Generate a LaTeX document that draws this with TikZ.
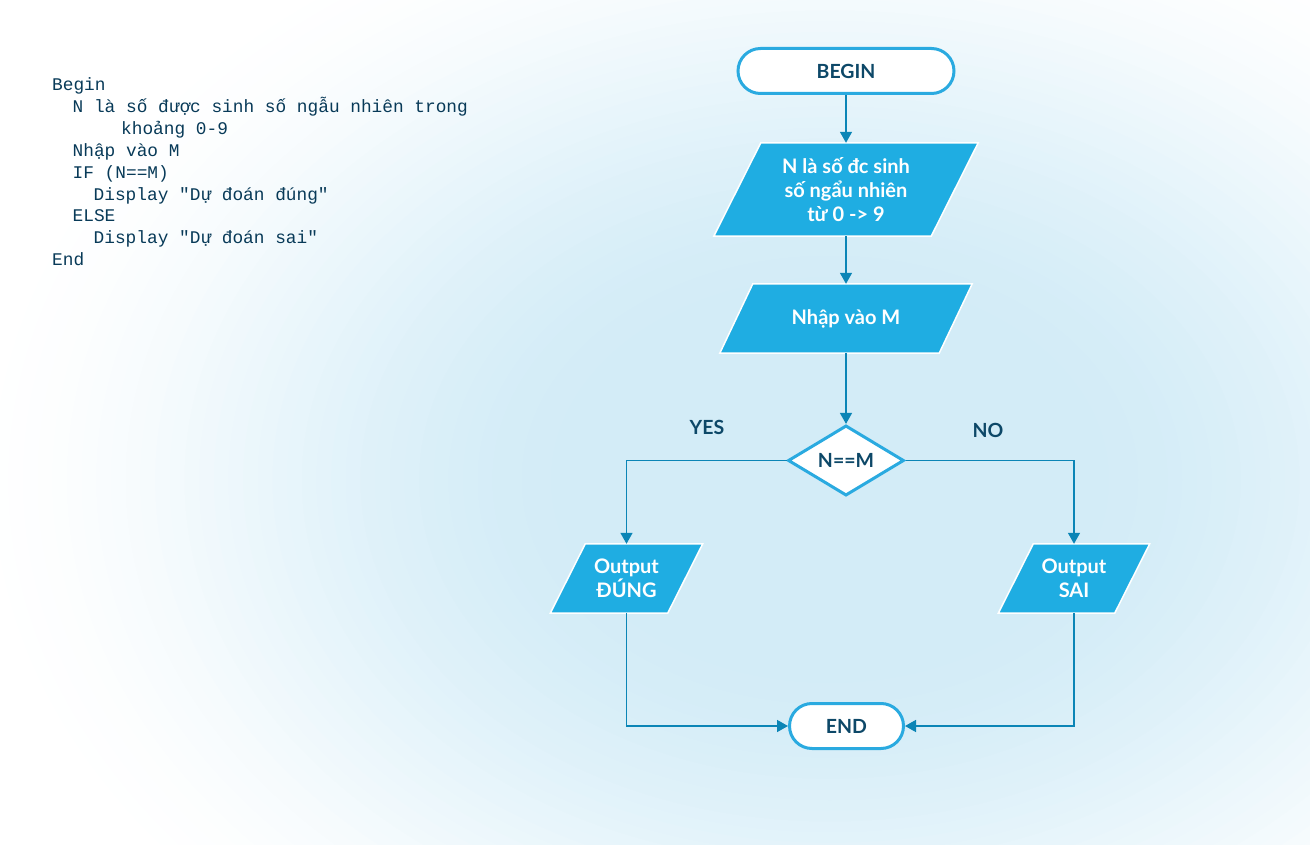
\documentclass[tikz,border=0pt]{standalone}
\usepackage{fontspec}
\setmainfont{Lato}
\newfontfamily\codefont{Liberation Mono}
\usetikzlibrary{arrows.meta,shapes.geometric,calc}
\pgfdeclarelayer{bg}
\pgfdeclarelayer{shapes}
\pgfsetlayers{bg,shapes,main}
\definecolor{boxfill}{HTML}{1FADE2}
\definecolor{termline}{HTML}{2AAAE0}
\definecolor{arrowc}{HTML}{0B85B6}
\definecolor{labelc}{HTML}{0D4868}
\definecolor{codec}{HTML}{083A58}
\definecolor{bgc}{RGB}{211,236,247}
\newcommand\paral[2]{\filldraw[fill=boxfill, draw=white, line width=1.5pt] ($(#1.north west)+(#2/2,0)$) -- ($(#1.north east)+(#2/2,0)$) -- ($(#1.south east)-(#2/2,0)$) -- ($(#1.south west)-(#2/2,0)$) -- cycle;}
\begin{document}
\begin{tikzpicture}[x=1pt,y=-1pt,
 term/.style={draw=termline, line width=3pt, fill=white, rounded corners=22.5pt, minimum height=45pt, text=labelc, font=\bfseries\fontsize{19.5}{22}\selectfont, inner sep=0pt},
 iotext/.style={inner sep=0pt, text=white, font=\bfseries\fontsize{20}{24}\selectfont, align=center},
 flow/.style={draw=arrowc, line width=1.5pt, -{Triangle[length=11pt,width=12pt]}},
 lbl/.style={text=labelc, font=\bfseries\fontsize{19.5}{22}\selectfont, inner sep=0pt},
 code/.style={anchor=base west, inner sep=0pt, text=codec, font=\codefont\fontsize{17.8}{22}\selectfont},
]
\path[use as bounding box] (0,0) rectangle (1310,845);
\begin{pgfonlayer}{bg}
\begin{scope}
\clip (0,0) rectangle (1310,845);
\fill[white] (0,0) rectangle (1310,845);
\foreach \i in {60,59,...,1}{
  \pgfmathsetmacro\rr{\i/60}
  \pgfmathsetmacro\ss{max(0,min(1,(\rr-0.28)/0.72))}
  \pgfmathsetmacro\pp{100*(1-\ss*\ss*(3-2*\ss))}
  \fill[bgc!\pp!white] (830,480) ellipse [x radius={880*\rr}, y radius={640*\rr}];
}
\end{scope}
\end{pgfonlayer}

% code
\node[code] (c1) at (52,91) {Begin};
\node[code] (c2) at (72.5,113) {N là số được sinh số ngẫu nhiên trong};
\node[code] (c3) at (121,135) {khoảng 0-9};
\node[code] (c4) at (72.5,157) {Nhập vào M};
\node[code] (c5) at (72.5,179) {IF (N==M)};
\node[code] (c6) at (93.5,200.5) {Display "Dự đoán đúng"};
\node[code] (c7) at (72.5,222) {ELSE};
\node[code] (c8) at (93.5,244) {Display "Dự đoán sai"};
\node[code] (c9) at (52,266) {End};

% flowchart
\node[term, minimum width=216pt] (begin) at (846,71) {BEGIN};
\node[iotext, minimum width=217pt, minimum height=93pt] (p1) at (846,189.5) {N là số đc sinh\\số ngẩu nhiên\\từ 0 -> 9};
\node[iotext, minimum width=219pt, minimum height=69pt] (p2) at (846,318.5) {Nhập vào M};
\node[shape=diamond, draw=termline, line width=3pt, fill=white, minimum width=116pt, minimum height=68pt, inner sep=0pt, text=labelc, font=\bfseries\fontsize{19.5}{22}\selectfont] (dec) at (846,460.5) {N==M};
\node[iotext, minimum width=117pt, minimum height=69pt] (o1) at (626.5,578.5) {Output\\ĐÚNG};
\node[iotext, minimum width=116pt, minimum height=69pt] (o2) at (1074,578.5) {Output\\SAI};
\node[term, minimum width=114pt] (end) at (846.5,726) {END};

\begin{pgfonlayer}{shapes}
\paral{p1}{47}
\paral{p2}{33}
\paral{o1}{35}
\paral{o2}{35}
\end{pgfonlayer}

\node[lbl] (yes) at (707,427) {YES};
\node[lbl] (no) at (988,430) {NO};

\draw[flow] (begin) -- (p1);
\draw[flow] (p1) -- (p2);
\draw[flow] (p2) -- (dec);
\draw[flow] (dec.west) -| (o1.north);
\draw[flow] (dec.east) -| (o2.north);
\draw[flow] (o1.south) |- (end.west);
\draw[flow] (o2.south) |- (end.east);
\end{tikzpicture}
\end{document}
